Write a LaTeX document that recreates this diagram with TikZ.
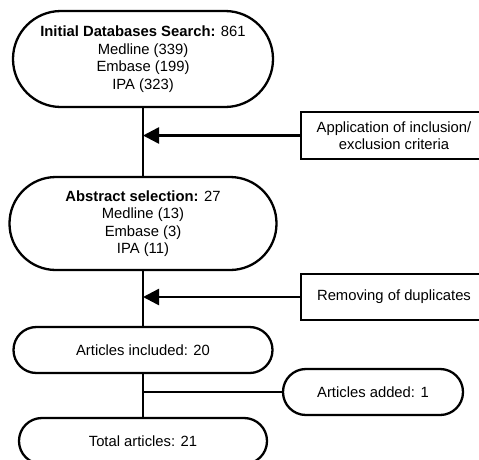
\documentclass[tikz,border=0pt]{standalone}
\usepackage{fontspec}
\setmainfont{Liberation Sans}
\usetikzlibrary{arrows.meta}
\begin{document}
\begin{tikzpicture}[x=1pt,y=-1pt,
  every node/.style={font=\fontsize{14.8}{17.5}\selectfont, align=center, inner sep=0pt},
  stad/.style={draw, line width=2.3pt},
  sidebox/.style={draw, line width=2.3pt, minimum width=186pt, minimum height=47pt},
  conn/.style={line width=2.5pt},
  arr/.style={line width=2.5pt, -{Triangle[length=16pt,width=16pt]}}]
\useasboundingbox (0,0) rectangle (479,459);
\node[stad, minimum width=260pt, minimum height=96pt, rounded corners=47.9pt] (n1) at (143,59)
  {\textbf{Initial Databases Search:} 861\\Medline (339)\\Embase (199)\\IPA (323)};
\node[stad, minimum width=267pt, minimum height=93pt, rounded corners=46.4pt] (n2) at (143,223.5)
  {\textbf{Abstract selection:} 27\\Medline (13)\\Embase (3)\\IPA (11)};
\node[stad, minimum width=259pt, minimum height=46pt, rounded corners=22.9pt] (n3) at (143,350)
  {Articles included: 20};
\node[stad, minimum width=248pt, minimum height=46pt, rounded corners=22.9pt] (n4) at (143,441)
  {Total articles: 21};
\node[stad, minimum width=180pt, minimum height=46pt, rounded corners=22.9pt] (n5) at (373,392)
  {Articles added: 1};
\node[sidebox] (a1) at (394,135.5) {Application of inclusion/\\exclusion criteria};
\node[sidebox, minimum height=46pt] (a2) at (394,297) {Removing of duplicates};
\draw[conn] (n1.south) -- (n2.north);
\draw[conn] (n2.south) -- (n3.north);
\draw[conn] (n3.south) -- (n4.north);
\draw[arr] (a1.west) -- (a1.west -| n1.south);
\draw[arr] (a2.west) -- (a2.west -| n1.south);
\draw[conn] (n5.west) -- (n5.west -| n1.south);
\end{tikzpicture}
\end{document}
